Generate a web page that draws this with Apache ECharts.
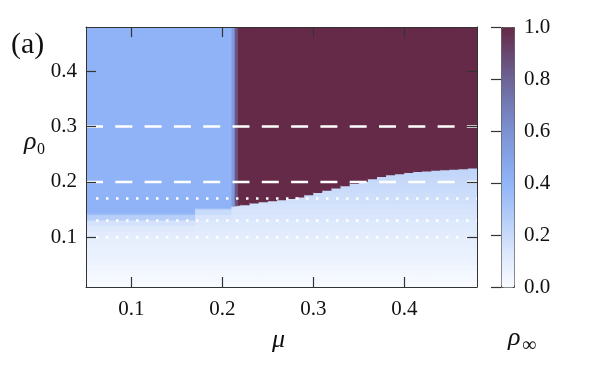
<!DOCTYPE html>
<html>
<head>
<meta charset="utf-8">
<script src="https://cdn.jsdelivr.net/npm/echarts@6/dist/echarts.min.js"></script>
<style>
html,body{margin:0;padding:0;background:#fff;}
#c{width:598px;height:373px;}
</style>
</head>
<body>
<div id="c"></div>
<script>
// ---- data ----
const xTicks = [0.1, 0.2, 0.3, 0.4];
const yTicks = [0.1, 0.2, 0.3, 0.4];
const cbTicks = [0, 0.2, 0.4, 0.6, 0.8, 1.0];
const xRange = [0.05, 0.48];
const yRange = [0.01, 0.48];

// column edges in mu
const muEdges = [0.05,0.06,0.07,0.08,0.09,0.10,0.11,0.12,0.13,0.14,0.15,0.16,0.17,0.18,0.19,0.20,0.21,0.2135,0.217,0.22,
  0.23,0.24,0.25,0.26,0.27,0.28,0.29,0.30,0.31,0.32,0.33,0.34,0.35,0.36,0.37,0.38,0.39,0.40,0.41,0.42,0.43,0.44,0.45,0.46,0.47,0.48];
// value of rho_inf in the upper part of each column
const colTop = [0.41,0.41,0.41,0.41,0.41,0.41,0.41,0.41,0.41,0.41,0.41,0.41,0.41,0.41,0.41,0.41,0.55,0.85,
  1,1,1,1,1,1,1,1,1,1,1,1,1,1,1,1,1,1,1,1,1,1,1,1,1,1,1];
// rho_0 where the upper part of each column begins
const colSplit = [0.143,0.143,0.143,0.143,0.143,0.143,0.143,0.143,0.143,0.143,0.143,0.143,
  0.152,0.152,0.152,0.152,0.155,0.156,
  0.157,0.158,0.161,0.163,0.165,0.167,0.169,0.172,0.176,0.180,0.184,0.188,0.192,0.196,0.200,0.205,0.209,0.212,0.214,0.216,0.218,0.219,0.220,0.221,0.222,0.223,0.224];
// which lower profile applies to each column
const colKind = 'LLLLLLLLLLLLMMMMRRRRRRRRRRRRRRRRRRRRRRRRRRRRR';
// lower-region values, rows of 0.01 in rho_0 starting at 0.01
const lowLeft  = [0.01,0.02,0.03,0.045,0.055,0.065,0.075,0.085,0.095,0.105,0.12,0.16,0.26,0.36];
const lowMid   = [0.01,0.02,0.03,0.045,0.055,0.065,0.075,0.085,0.095,0.105,0.115,0.13,0.15,0.2,0.3];
const lowRight = [0.01,0.02,0.03,0.045,0.055,0.065,0.075,0.085,0.095,0.105,0.115,0.125,0.14,0.15,0.16,0.175,0.185,0.195,0.205,0.215,0.225,0.235];

const dashedRho = [0.3, 0.2];
const dottedRho = [0.17, 0.13, 0.10];

const cmapColors = ['#f9fbff','#e4edfd','#c9dbfa','#abc6f8','#90b5f8','#85a3e6','#7c92d2','#747cb6','#6c6496','#684670','#652a48'];

// ---- build cells table ----
const profiles = {L: lowLeft, M: lowMid, R: lowRight};
const cells = [];
for (let c = 0; c < muEdges.length - 1; c++) {
  const m0 = muEdges[c], m1 = muEdges[c + 1];
  const split = colSplit[c];
  const prof = profiles[colKind[c]];
  for (let r = 0; r < prof.length; r++) {
    const lo = Math.round((yRange[0] + 0.01 * r) * 1000) / 1000;
    if (lo >= split - 1e-9) break;
    const hi = Math.min(lo + 0.01, split);
    cells.push([m0, m1, lo, hi, prof[r]]);
  }
  cells.push([m0, m1, split, yRange[1], colTop[c]]);
}

const serif = "'Liberation Serif','DejaVu Serif','Times New Roman',serif";
const axisCol = '#333';

function renderCell(params, api) {
  const a = api.coord([api.value(0), api.value(3)]);
  const b = api.coord([api.value(1), api.value(2)]);
  const col = api.visual('color');
  // extend one pixel right/up so the next drawn cell covers the seam
  return {
    type: 'rect',
    shape: {x: a[0], y: a[1] - 1, width: b[0] - a[0] + 1, height: b[1] - a[1] + 1},
    style: {fill: col}
  };
}

const lineSeries = [];
dashedRho.forEach(v => lineSeries.push({
  type: 'line', xAxisIndex: 0, yAxisIndex: 0, silent: true, symbol: 'none', z: 5,
  data: [[xRange[0], v], [xRange[1], v]],
  lineStyle: {color: '#fff', width: 2.5, type: [17, 12.3], cap: 'butt'}
}));
dottedRho.forEach(v => lineSeries.push({
  type: 'line', xAxisIndex: 0, yAxisIndex: 0, silent: true, symbol: 'none', z: 5,
  data: [[xRange[0] + 0.011, v], [xRange[1], v]],
  lineStyle: {color: '#fff', width: 2.5, type: [2.5, 7.5], cap: 'butt'}
}));

const tickLab = {fontFamily: serif, fontSize: 21, color: '#111'};

const chart = echarts.init(document.getElementById('c'), null, {renderer: 'canvas'});
chart.setOption({
  animation: false,
  backgroundColor: '#fff',
  grid: [
    {left: 86, top: 27, width: 391, height: 260},
    {left: 501, top: 27, width: 13, height: 260}
  ],
  xAxis: [
    {type: 'value', gridIndex: 0, min: xRange[0], max: xRange[1], position: 'bottom', z: 10,
     axisLine: {show: true, lineStyle: {color: axisCol, width: 1}},
     axisTick: {show: true, inside: true, length: 10, customValues: xTicks, lineStyle: {color: axisCol, width: 1.2}},
     axisLabel: Object.assign({show: true, margin: 12, customValues: xTicks, formatter: v => v.toFixed(1)}, tickLab),
     splitLine: {show: false}},
    {type: 'value', gridIndex: 0, min: xRange[0], max: xRange[1], position: 'top', z: 10,
     axisLine: {show: true, lineStyle: {color: axisCol, width: 1}},
     axisTick: {show: true, inside: true, length: 10, customValues: xTicks, lineStyle: {color: axisCol, width: 1.2}},
     axisLabel: {show: false}, splitLine: {show: false}},
    {type: 'value', gridIndex: 1, min: 0, max: 1, show: false}
  ],
  yAxis: [
    {type: 'value', gridIndex: 0, min: yRange[0], max: yRange[1], position: 'left', z: 10,
     axisLine: {show: true, lineStyle: {color: axisCol, width: 1}},
     axisTick: {show: true, inside: true, length: 10, customValues: yTicks, lineStyle: {color: axisCol, width: 1.2}},
     axisLabel: Object.assign({show: true, margin: 9, customValues: yTicks, formatter: v => v.toFixed(1)}, tickLab),
     splitLine: {show: false}},
    {type: 'value', gridIndex: 0, min: yRange[0], max: yRange[1], position: 'right', z: 10,
     axisLine: {show: true, lineStyle: {color: axisCol, width: 1}},
     axisTick: {show: true, inside: true, length: 10, customValues: yTicks, lineStyle: {color: axisCol, width: 1.2}},
     axisLabel: {show: false}, splitLine: {show: false}},
    {type: 'value', gridIndex: 1, min: 0, max: 1, position: 'right', z: 10,
     axisLine: {show: false},
     axisTick: {show: true, inside: true, length: 10, customValues: cbTicks, lineStyle: {color: axisCol, width: 1.2}},
     axisLabel: Object.assign({show: true, margin: 10, customValues: cbTicks, formatter: v => v.toFixed(1)}, tickLab),
     splitLine: {show: false}}
  ],
  visualMap: {
    type: 'continuous', min: 0, max: 1, dimension: 4, seriesIndex: 0,
    calculable: false, realtime: false, show: true,
    left: 501, top: 27, itemWidth: 13, itemHeight: 260, padding: 0,
    borderColor: '#444', borderWidth: 1, z: 1,
    inRange: {color: cmapColors}
  },
  series: [
    {type: 'custom', xAxisIndex: 0, yAxisIndex: 0, renderItem: renderCell, clip: true, silent: true, z: 2,
     encode: {x: [0, 1], y: [2, 3]}, data: cells}
  ].concat(lineSeries),
  graphic: [
    {type: 'text', left: 11, top: 30, style: {text: '(a)', font: "30px " + serif, fill: '#111'}},
    {type: 'text', x: 24, y: 129.5, style: {text: 'ρ', font: "italic 26px " + serif, fill: '#111'}},
    {type: 'text', x: 37, y: 141.5, style: {text: '0', font: "16px " + serif, fill: '#111'}},
    {type: 'text', x: 272, y: 327, style: {text: 'μ', font: "italic 26px " + serif, fill: '#111'}},
    {type: 'text', x: 508, y: 325, style: {text: 'ρ', font: "italic 26px " + serif, fill: '#111'}},
    {type: 'text', x: 522, y: 336, style: {text: '∞', font: "20px " + serif, fill: '#111'}}
  ]
});
</script>
</body>
</html>
